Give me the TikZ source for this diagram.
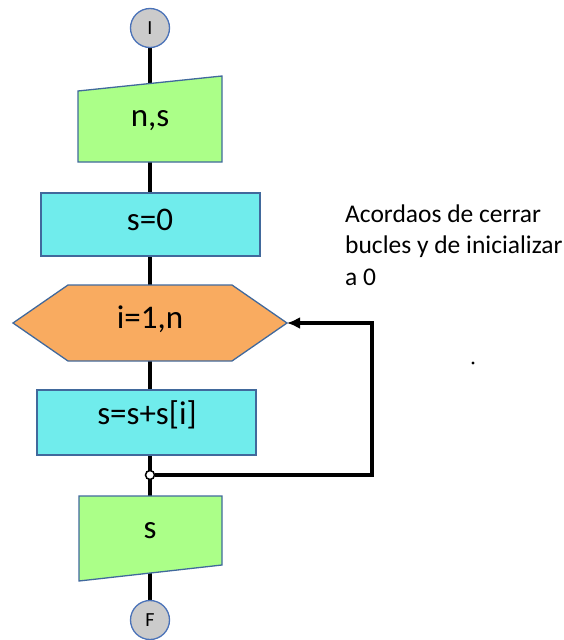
\documentclass[tikz,border=0pt]{standalone}
\usepackage{fontspec}
\setmainfont{Carlito}
\usetikzlibrary{calc,backgrounds,arrows.meta}
\definecolor{iofill}{HTML}{ABFF88}
\definecolor{procfill}{HTML}{70ECEC}
\definecolor{loopfill}{HTML}{F9AB60}
\definecolor{termfill}{HTML}{CBCBCB}
\definecolor{edgeblue}{HTML}{41699C}
\definecolor{termedge}{HTML}{4A72B8}
\tikzset{
  shapebox/.style={rectangle, inner sep=0pt, outer sep=0pt},
  shapeline/.style={draw=edgeblue, line width=1.3pt},
  term/.style={circle, minimum size=39pt, inner sep=0pt, fill=termfill,
    draw=termedge, line width=1.3pt, font=\fontsize{20}{22}\selectfont},
  lbl/.style={inner sep=0pt, font=\fontsize{33}{38}\selectfont},
  flow/.style={line width=3.2pt, black},
  junction/.style={circle, minimum size=9pt, inner sep=0pt, fill=white,
    draw=black, line width=1.5pt},
  note/.style={inner sep=0pt, align=left, anchor=base west,
    font=\fontsize{25.5}{31.5}\selectfont}
}
\begin{document}
\begin{tikzpicture}[x=1pt, y=-1pt]
\useasboundingbox (0,0) rectangle (564,640);

% terminals
\node[term] (I) at (150,28) {I};
\node[term] (F) at (150,620) {F};

% frames of the blocks (empty nodes carry the names)
\node[shapebox, minimum width=144pt, minimum height=86pt] (in1) at (150,119) {};
\node[shapebox, minimum width=219pt, minimum height=63pt] (s0) at (150.5,224.5) {};
\node[shapebox, minimum width=274pt, minimum height=76pt] (hex) at (150,323) {};
\node[shapebox, minimum width=219pt, minimum height=65pt] (s2) at (146.5,422.5) {};
\node[shapebox, minimum width=143pt, minimum height=85pt] (out) at (150.5,538.5) {};

% manual input n,s
\path[shapeline, fill=iofill] (in1.south west) -- (in1.south east)
  -- (in1.north east) -- ($(in1.north west)+(0,15)$) -- cycle;
% s=0
\path[shapeline, fill=procfill] (s0.south west) rectangle (s0.north east);
% loop header
\path[shapeline, fill=loopfill] (hex.west) -- ($(hex.north west)+(55,0)$)
  -- ($(hex.north east)+(-55,0)$) -- (hex.east)
  -- ($(hex.south east)+(-55,0)$) -- ($(hex.south west)+(55,0)$) -- cycle;
% s=s+s[i]
\path[shapeline, fill=procfill] (s2.south west) rectangle (s2.north east);
% output s
\path[shapeline, fill=iofill] (out.north west) -- (out.north east)
  -- ($(out.south east)+(0,-16)$) -- (out.south west) -- cycle;

% labels
\node[lbl] (tin1) at (150,121) {n,s};
\node[lbl] (ts0) at (150,220) {s=0};
\node[lbl] (thex) at (150,319) {i=1,n};
\node[lbl] (ts2) at (147,415) {s=s+s[i]};
\node[lbl] (tout) at (150,531) {s};

% junction closing the loop
\node[junction] (jn) at (150,475) {};
\coordinate (cr) at (372,476);

% connectors, behind the blocks: the main spine runs straight down
\begin{scope}[on background layer]
\draw[flow] (I) -- (jn.center) -- (F);
\draw[flow, -{Latex[length=13pt, width=12pt]}, line join=miter]
  (jn.east) -- (jn.east -| cr) -- (cr |- hex.east) -- (hex.east);
\end{scope}

% note (anchored on the baseline of its last line)
\node[note] (nota) at (345,285) {Acordaos de cerrar\\bucles y de inicializar\\a 0};
\fill (473,363) circle (1.6pt);
\end{tikzpicture}
\end{document}
